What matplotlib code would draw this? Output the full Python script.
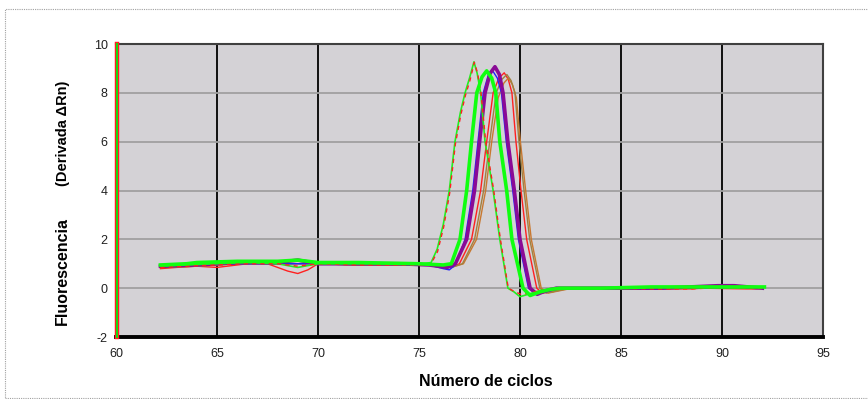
import matplotlib
matplotlib.use("Agg")
import matplotlib.pyplot as plt
from matplotlib.patches import Rectangle

plt.rcParams["font.family"] = ["Liberation Sans", "DejaVu Sans"]
plt.rcParams["axes.unicode_minus"] = False

# temperature / fluorescence derivative readings, one pair of lists per curve
green_thin_x = [62.2, 63.5, 65.0, 66.5, 68.0, 69.0, 70.0, 72.0, 74.0, 75.2, 75.6, 75.9, 76.2, 76.5,
                76.78, 77.05, 77.28, 77.5, 77.72, 77.88, 78.05, 78.27, 78.67, 79.0, 79.4, 79.7, 80.0,
                80.4, 81.0, 81.5, 82.0, 84.0, 86.5, 88.0, 90.0, 92.1]
green_thin_y = [0.9, 0.95, 1.0, 1.05, 1.0, 0.85, 1.0, 1.0, 1.0, 1.0, 1.05, 1.6, 2.6, 4.0,
                6.0, 7.2, 8.0, 8.6, 9.27, 8.8, 8.0, 6.0, 4.0, 2.0, 0.0, -0.15, -0.35,
                -0.25, -0.1, -0.05, 0.0, 0.0, 0.05, 0.05, 0.05, 0.05]

red_early_x = [62.2, 63.5, 65.0, 66.5, 68.0, 69.0, 70.0, 72.0, 74.0, 75.2, 75.6, 75.92, 76.22, 76.52,
               76.8, 77.07, 77.3, 77.52, 77.74, 77.9, 78.07, 78.3, 78.7, 79.03, 79.42, 79.75, 80.05,
               80.5, 81.0, 81.5, 82.0, 84.0, 86.8, 88.5, 90.0, 92.0]
red_early_y = [0.85, 0.9, 0.95, 1.0, 1.0, 0.9, 1.0, 0.95, 0.95, 0.95, 1.0, 1.5, 2.5, 3.9,
               5.9, 7.1, 7.9, 8.5, 9.25, 8.8, 8.0, 6.0, 4.0, 2.0, 0.0, -0.15, -0.25,
               -0.2, -0.1, -0.05, 0.0, 0.0, -0.03, -0.03, 0.03, 0.0]

blue_x = [62.2, 64.0, 66.0, 68.0, 70.0, 72.0, 74.0, 75.5, 76.2, 76.5, 76.8, 77.28, 77.66, 77.92,
          78.18, 78.42, 78.65, 78.88, 79.08, 79.32, 79.64, 79.92, 80.42, 80.8, 81.3, 82.0, 85.0,
          88.0, 90.7, 92.0]
blue_y = [0.9, 0.95, 1.0, 1.0, 1.0, 1.0, 1.0, 0.95, 0.8, 0.75, 0.95, 2.0, 4.0, 6.0,
          8.0, 8.7, 8.9, 8.6, 8.0, 6.0, 4.0, 2.0, 0.0, -0.25, -0.15, 0.0, 0.0,
          0.0, 0.03, 0.0]

purple_x = [62.2, 64.0, 66.0, 68.0, 69.0, 70.0, 72.0, 74.0, 75.5, 76.4, 76.8, 77.36, 77.75, 78.0,
            78.27, 78.52, 78.76, 78.98, 79.16, 79.4, 79.72, 80.0, 80.5, 80.85, 81.3, 81.8, 84.0,
            87.0, 89.8, 90.6, 92.0]
purple_y = [0.9, 0.95, 1.05, 1.05, 1.15, 1.0, 1.0, 1.0, 0.95, 0.85, 1.0, 2.0, 4.0, 6.0,
            8.0, 8.8, 9.07, 8.75, 8.0, 6.0, 4.0, 2.0, 0.0, -0.25, -0.1, 0.0, 0.0,
            0.0, 0.1, 0.1, 0.0]

red_late_x = [62.2, 63.0, 64.0, 65.0, 66.0, 67.0, 67.5, 68.0, 68.5, 69.0, 69.5, 70.0, 72.0, 74.0, 75.5,
              76.6, 77.0, 77.6, 78.05, 78.35, 78.67, 78.95, 79.22, 79.42, 79.6, 79.8, 80.05, 80.33,
              80.83, 81.1, 81.6, 82.2, 84.0, 86.8, 88.5, 89.0, 91.2, 91.7, 92.0]
red_late_y = [0.8, 0.85, 0.9, 0.85, 0.95, 1.05, 1.0, 0.85, 0.7, 0.6, 0.75, 1.0, 0.95, 0.95, 0.95,
              0.85, 1.0, 2.0, 4.0, 6.0, 8.0, 8.6, 8.82, 8.55, 8.0, 6.0, 4.0, 2.0,
              0.0, -0.2, -0.15, 0.0, 0.0, -0.03, -0.03, 0.0, -0.03, -0.03, 0.0]

brown_x = [62.2, 64.0, 66.0, 68.0, 70.0, 72.0, 74.0, 75.5, 76.6, 77.15, 77.75, 78.2, 78.5, 78.82,
           79.1, 79.35, 79.56, 79.75, 79.95, 80.2, 80.48, 80.98, 81.3, 81.9, 82.5, 85.0, 88.0, 92.0]
brown_y = [0.85, 0.9, 1.0, 1.0, 1.0, 0.95, 0.95, 0.95, 0.85, 1.0, 2.0, 4.0, 6.0, 8.0,
           8.55, 8.75, 8.5, 8.0, 6.0, 4.0, 2.0, 0.0, -0.2, -0.1, 0.0, 0.0, 0.0, 0.0]

orange_x = [62.2, 64.0, 66.0, 68.0, 70.0, 72.0, 74.0, 75.5, 76.6, 77.2, 77.85, 78.3, 78.6, 78.92,
            79.2, 79.42, 79.62, 79.82, 80.02, 80.28, 80.56, 81.05, 81.4, 82.0, 82.6, 85.0, 88.0, 92.0]
orange_y = [0.85, 0.9, 1.0, 1.0, 1.0, 0.95, 0.95, 0.95, 0.85, 1.0, 2.0, 4.0, 6.0, 7.8,
            8.4, 8.6, 8.35, 7.8, 6.0, 4.0, 2.0, 0.0, -0.2, -0.1, 0.0, 0.0, 0.0, 0.0]

green_thick_x = [62.2, 63.5, 64.0, 66.0, 68.0, 69.0, 70.0, 72.0, 75.0, 76.2, 76.6, 77.03, 77.36,
                 77.6, 77.86, 78.12, 78.35, 78.6, 78.8, 79.0, 79.34, 79.6, 80.15, 80.5, 81.0, 81.5,
                 82.0, 84.0, 86.5, 88.0, 90.0, 92.1]
green_thick_y = [0.95, 1.0, 1.05, 1.1, 1.1, 1.15, 1.05, 1.05, 1.0, 0.95, 1.0, 2.0, 4.0,
                 6.0, 8.0, 8.65, 8.9, 8.6, 8.0, 6.0, 4.0, 2.0, 0.0, -0.3, -0.15, -0.05,
                 0.0, 0.0, 0.05, 0.05, 0.05, 0.05]

# marker line at the left edge of the run
edge_x = [60.07, 60.07]
edge_y = [-2, 10]

x_ticks = [60, 65, 70, 75, 80, 85, 90, 95]
y_ticks = [-2, 0, 2, 4, 6, 8, 10]

fig = plt.figure(figsize=(8.68, 3.99), dpi=100)
fig.patches.append(Rectangle((5 / 868, 0.002), 1.2, 1 - 9 / 399 - 0.002, transform=fig.transFigure,
                             fill=False, edgecolor="#a0a0a0", linewidth=0.8, linestyle=(0, (1, 1))))
ax = fig.add_axes([116 / 868, 1 - 337 / 399, (823 - 116) / 868, (337 - 44) / 399])
ax.set_facecolor("#d4d2d6")

for v in x_ticks[1:-1]:
    ax.axvline(v, color="black", linewidth=1.3, zorder=1)
for h in y_ticks[1:-1]:
    ax.axhline(h, color="#a0a0a0", linewidth=1.3, zorder=1)

ax.plot(red_late_x, red_late_y, color="#ff2020", linewidth=1.0, zorder=3)
ax.plot(orange_x, orange_y, color="#c87830", linewidth=1.0, zorder=3)
ax.plot(brown_x, brown_y, color="#a08040", linewidth=1.0, zorder=3)
ax.plot(blue_x, blue_y, color="#2020ff", linewidth=1.0, zorder=3)
ax.plot(purple_x, purple_y, color="#8a0a96", linewidth=2.6, zorder=4)
ax.plot(green_thin_x, green_thin_y, color="#20f020", linewidth=1.2, zorder=4)
ax.plot(red_early_x, red_early_y, color="#ff2020", linewidth=1.0, linestyle=(0, (3, 3)), zorder=5)
ax.plot(green_thick_x, green_thick_y, color="#10ff10", linewidth=2.6, zorder=5)
ax.plot(edge_x, edge_y, color="#ff2020", linewidth=3.2, zorder=6, clip_on=False)
ax.plot(edge_x, edge_y, color="#10e010", linewidth=1.4, zorder=7, clip_on=False)

ax.set_xlim(60, 95)
ax.set_ylim(-2, 10)
ax.set_xticks(x_ticks)
ax.set_yticks(y_ticks)
ax.tick_params(length=0, labelsize=9, colors="#202020", pad=6)
ax.tick_params(axis="x", pad=8)
for s in ["top", "right"]:
    ax.spines[s].set_color("#404040")
    ax.spines[s].set_linewidth(1.5)
ax.spines["left"].set_visible(False)
ax.spines["bottom"].set_color("black")
ax.spines["bottom"].set_linewidth(2.8)

fig.text(486 / 868, 1 - 381 / 399, "Número de ciclos", ha="center", va="center",
         fontsize=11.5, fontweight="bold")
fig.text(62 / 868, 1 - 271 / 399, "Fluorescencia", rotation=90, ha="center", va="center",
         fontsize=11.5, fontweight="bold")
fig.text(63 / 868, 1 - 133 / 399, "(Derivada ΔRn)", rotation=90, ha="center", va="center",
         fontsize=10.5, fontweight="bold")

fig.savefig("out.png", dpi=100)
